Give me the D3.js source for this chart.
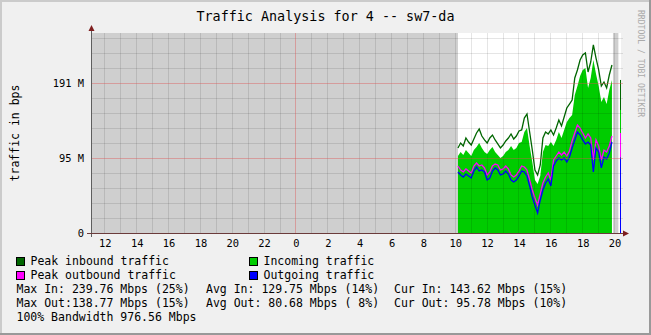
<!DOCTYPE html>
<html>
<head>
<meta charset="utf-8">
<script src="https://cdn.jsdelivr.net/npm/d3@7"></script>
<style>
html, body { margin: 0; padding: 0; background: #F0F0F0; }
svg { display: block; }
text { font-family: "DejaVu Sans Mono", monospace; white-space: pre; }
</style>
</head>
<body>
<svg id="chart" width="651" height="335"></svg>
<script>
// samples every 10 minutes, hours counted from midnight of the first day
var startHour = 34.2;
var stepHours = 1 / 6;

// values in Mbps (M), null = unknown
var peakIn = [108.1, 114.4, 110.6, 120.8, 115.7, 111.9, 119.5, 127.2, 132.2, 123.3,
  118.3, 114.4, 120.8, 124.6, 118.3, 113.2, 108.1, 111.9, 117.0, 120.8,
  125.9, 119.5, 123.3, 129.7, 131.0, 146.2, 151.3, 128.4, 105.5, 80.1,
  73.8, 86.5, 120.8, 128.4, 125.9, 131.0, 124.6, 133.5, 143.7, 136.1,
  147.5, 159.0, 164.0, 169.1, 197.1, 207.3, 220.0, 226.3, 228.9, 204.7,
  217.4, 239.1, 222.5, 207.3, 186.9, 192.0, 184.4, 200.9, 213.6, null,
  null, 194.6];
var incoming = [97.9, 103.0, 99.2, 105.5, 101.7, 97.9, 105.5, 109.4, 114.4, 108.1,
  103.0, 100.5, 105.5, 109.4, 103.0, 99.2, 95.4, 97.9, 103.0, 105.5,
  110.6, 105.5, 108.1, 114.4, 115.7, 128.4, 133.5, 110.6, 90.3, 67.4,
  62.3, 72.5, 103.0, 111.9, 110.6, 115.7, 110.6, 118.3, 128.4, 120.8,
  131.0, 141.1, 146.2, 150.0, 175.5, 186.9, 199.6, 207.3, 209.8, 184.4,
  197.1, 220.0, 202.2, 186.9, 166.6, 172.9, 164.0, 181.8, 194.6, null,
  null, 156.4];
var peakOut = [85.2, 80.1, 77.6, 81.4, 78.8, 76.3, 85.2, 89.0, 85.2, 86.5,
  82.7, 73.8, 77.6, 85.2, 87.7, 86.5, 80.1, 81.4, 85.2, 81.4,
  73.8, 71.2, 73.8, 78.8, 85.2, 83.9, 80.1, 67.4, 54.7, 44.5,
  35.6, 49.6, 63.6, 71.2, 76.3, 67.4, 92.8, 97.9, 103.0, 99.2,
  103.0, 97.9, 104.3, 117.0, 127.2, 137.3, 133.5, 127.2, 120.8, 125.9,
  120.8, 92.8, 118.3, 110.6, 92.8, 105.5, 103.0, 110.6, 123.3, null,
  null, 127.2];
var outgoing = [77.6, 73.8, 71.2, 75.0, 72.5, 69.9, 78.8, 83.9, 78.8, 80.1,
  77.6, 67.4, 69.9, 78.8, 82.7, 80.1, 73.8, 75.0, 78.8, 75.0,
  67.4, 64.9, 67.4, 72.5, 78.8, 77.6, 72.5, 59.8, 45.8, 35.6,
  25.4, 42.0, 54.7, 63.6, 68.7, 59.8, 85.2, 91.6, 95.4, 92.8,
  95.4, 90.3, 96.6, 108.1, 118.3, 128.4, 124.6, 118.3, 113.2, 115.7,
  111.9, 77.6, 108.1, 103.0, 82.7, 96.6, 94.1, 101.7, 115.7, null,
  null, 95.8];

// periods with no data (hours)
var unknownSpans = [[11.165, 34.2], [43.93, 44.27]];

var yMajorValues = [95.37, 190.73];
var yMajorLabels = ['95 M', '191 M'];
var yMinorStep = 19.074;
var xTickHours = [12, 14, 16, 18, 20, 22, 24, 26, 28, 30, 32, 34, 36, 38, 40, 42, 44];
var xTickLabels = ['12', '14', '16', '18', '20', '22', '0', '2', '4', '6', '8', '10', '12', '14', '16', '18', '20'];
var xMajorHours = [24];

var legendItems = [
  { label: 'Peak inbound traffic', color: '#006600' },
  { label: 'Incoming traffic', color: '#00CC00' },
  { label: 'Peak outbound traffic', color: '#FF00FF' },
  { label: 'Outgoing traffic', color: '#0000FF' }
];
var statRows = [
  ['Max In: 239.76 Mbps (25%)', 'Avg In: 129.75 Mbps (14%)', 'Cur In: 143.62 Mbps (15%)'],
  ['Max Out:138.77 Mbps (15%)', 'Avg Out: 80.68 Mbps ( 8%)', 'Cur Out: 95.78 Mbps (10%)'],
  ['100% Bandwidth 976.56 Mbps']
];

// svg rendering
var svg = d3.select('#chart');
var width = 651, height = 335;
var plotL = 91, plotR = 621, plotT = 33, plotB = 233;

var x = d3.scaleLinear().domain([11.165, 44.435]).range([plotL, plotR]);
var y = d3.scaleLinear().domain([0, 254.3]).range([plotB, plotT]);

var samples = incoming.map(function(v, i) {
  return { h: startHour + i * stepHours, inc: v, peakIn: peakIn[i], peakOut: peakOut[i], out: outgoing[i] };
});
var known = function(d) { return d.inc != null; };

// frame
svg.append('rect').attr('width', width).attr('height', height).attr('fill', '#F0F0F0');
svg.append('rect').attr('x', 0).attr('y', 0).attr('width', width).attr('height', 2).attr('fill', '#CBCBCB');
svg.append('rect').attr('x', 0).attr('y', 0).attr('width', 2).attr('height', height).attr('fill', '#CBCBCB');
svg.append('rect').attr('x', 0).attr('y', height - 2).attr('width', width).attr('height', 2).attr('fill', '#999999');
svg.append('rect').attr('x', width - 2).attr('y', 0).attr('width', 2).attr('height', height).attr('fill', '#999999');

// canvas
svg.append('rect').attr('x', plotL).attr('y', plotT).attr('width', plotR - plotL).attr('height', plotB - plotT).attr('fill', '#FFFFFF');

// unknown data
svg.selectAll('rect.unkn').data(unknownSpans).enter().append('rect')
  .attr('class', 'unkn')
  .attr('x', function(d) { return x(d[0]); })
  .attr('y', plotT)
  .attr('width', function(d) { return x(d[1]) - x(d[0]); })
  .attr('height', plotB - plotT)
  .attr('fill', '#CFCFCF');

// incoming area
var area = d3.area().defined(known)
  .x(function(d) { return x(d.h); })
  .y0(y(0))
  .y1(function(d) { return y(d.inc); });
svg.append('path').datum(samples).attr('d', area).attr('fill', '#00CC00');

var draw_line = function(key, color) {
  var line = d3.line().defined(known)
    .x(function(d) { return x(d.h); })
    .y(function(d) { return y(d[key]); });
  svg.append('path').datum(samples).attr('d', line)
    .attr('fill', 'none').attr('stroke', color).attr('stroke-width', 1.3);
};
draw_line('peakIn', '#006600');
draw_line('peakOut', '#FF00FF');
draw_line('out', '#0000FF');

// lone samples get drawn as one pixel column
samples.forEach(function(d, i) {
  var prev = samples[i - 1], next = samples[i + 1];
  if (!known(d) || (prev && known(prev)) || (next && known(next))) return;
  var cx = Math.round(x(d.h)) + 0.5;
  var seg = function(v0, v1, color) {
    svg.append('line').attr('x1', cx).attr('x2', cx).attr('y1', y(v0)).attr('y2', y(v1))
      .attr('stroke', color).attr('stroke-width', 1);
  };
  seg(0, d.inc, '#00CC00');
  seg(d.inc, d.peakIn, '#006600');
  seg(d.out, d.peakOut, '#FF00FF');
  seg(0, d.out, '#0000FF');
});

// grid on top
var grid = svg.append('g').attr('shape-rendering', 'crispEdges');
var hMinor = d3.range(1, 14).filter(function(k) { return k % 5 != 0; }).map(function(k) { return k * yMinorStep; });
grid.selectAll('line.hmin').data(hMinor).enter().append('line')
  .attr('x1', plotL).attr('x2', plotR + 2)
  .attr('y1', function(d) { return Math.round(y(d)) + 0.5; })
  .attr('y2', function(d) { return Math.round(y(d)) + 0.5; })
  .attr('stroke', 'rgba(0,0,0,0.1)');
var vMinor = d3.range(12, 45).filter(function(h) { return xMajorHours.indexOf(h) < 0; });
grid.selectAll('line.vmin').data(vMinor).enter().append('line')
  .attr('x1', function(d) { return Math.round(x(d)) + 0.5; })
  .attr('x2', function(d) { return Math.round(x(d)) + 0.5; })
  .attr('y1', plotT).attr('y2', plotB)
  .attr('stroke', 'rgba(0,0,0,0.1)');
grid.selectAll('line.hmaj').data(yMajorValues).enter().append('line')
  .attr('x1', plotL).attr('x2', plotR + 2)
  .attr('y1', function(d) { return Math.round(y(d)) + 0.5; })
  .attr('y2', function(d) { return Math.round(y(d)) + 0.5; })
  .attr('stroke', 'rgba(222,79,79,0.4)');
grid.selectAll('line.vmaj').data(xMajorHours).enter().append('line')
  .attr('x1', function(d) { return Math.round(x(d)) + 0.5; })
  .attr('x2', function(d) { return Math.round(x(d)) + 0.5; })
  .attr('y1', plotT).attr('y2', plotB)
  .attr('stroke', 'rgba(222,79,79,0.4)');

// axes
var axes = svg.append('g').attr('shape-rendering', 'crispEdges');
axes.append('line').attr('x1', plotL + 0.5).attr('x2', plotL + 0.5).attr('y1', plotT - 5).attr('y2', plotB + 4)
  .attr('stroke', '#5E5E5E');
axes.append('line').attr('x1', plotL - 4).attr('x2', plotR + 3).attr('y1', plotB + 0.5).attr('y2', plotB + 0.5)
  .attr('stroke', '#6B3B3B');
svg.append('path').attr('d', 'M' + (plotL - 2.5) + ',' + (plotT - 2) + 'L' + (plotL + 3.5) + ',' + (plotT - 2) + 'L' + (plotL + 0.5) + ',' + (plotT - 8) + 'Z')
  .attr('fill', '#7F1F1F');
svg.append('path').attr('d', 'M' + (plotR + 2) + ',' + (plotB - 2.5) + 'L' + (plotR + 2) + ',' + (plotB + 3.5) + 'L' + (plotR + 8) + ',' + (plotB + 0.5) + 'Z')
  .attr('fill', '#7F1F1F');

// tick labels
svg.selectAll('text.ylab').data(yMajorValues.concat([0])).enter().append('text')
  .attr('x', 84).attr('y', function(d) { return y(d) + 3.8; })
  .attr('text-anchor', 'end').attr('font-size', '10.4px')
  .text(function(d, i) { return i < yMajorLabels.length ? yMajorLabels[i] : '0'; });
svg.selectAll('text.xlab').data(xTickHours).enter().append('text')
  .attr('x', function(d) { return x(d) + 1; }).attr('y', 246.5)
  .attr('text-anchor', 'middle').attr('font-size', '10.4px')
  .text(function(d, i) { return xTickLabels[i]; });

// titles
svg.append('text').attr('x', 325.5).attr('y', 21).attr('text-anchor', 'middle')
  .attr('font-size', '13.4px').text('Traffic Analysis for 4 -- sw7-da');
svg.append('text').attr('transform', 'translate(18.5,133) rotate(-90)').attr('text-anchor', 'middle')
  .attr('font-size', '11.5px').text('traffic in bps');
svg.append('text').attr('transform', 'translate(638,10) rotate(90)')
  .attr('font-size', '8.1px').attr('fill', '#AAAAAA').text('RRDTOOL / TOBI OETIKER');

// legend
var legendX = [16, 249];
var legendY = [265, 279];
legendItems.forEach(function(item, i) {
  var lx = legendX[i % 2], ly = legendY[Math.floor(i / 2)];
  svg.append('rect').attr('x', lx + 0.5).attr('y', ly - 7.5).attr('width', 8).attr('height', 8)
    .attr('fill', item.color).attr('stroke', '#000').attr('shape-rendering', 'crispEdges');
  svg.append('text').attr('x', lx + 14.5).attr('y', ly).attr('font-size', '11.5px').text(item.label);
});
var statX = [16.5, 206, 394];
var statY = [293, 307, 321];
statRows.forEach(function(row, r) {
  row.forEach(function(s, c) {
    svg.append('text').attr('x', statX[c]).attr('y', statY[r]).attr('font-size', '11.5px').text(s);
  });
});
</script>
</body>
</html>
